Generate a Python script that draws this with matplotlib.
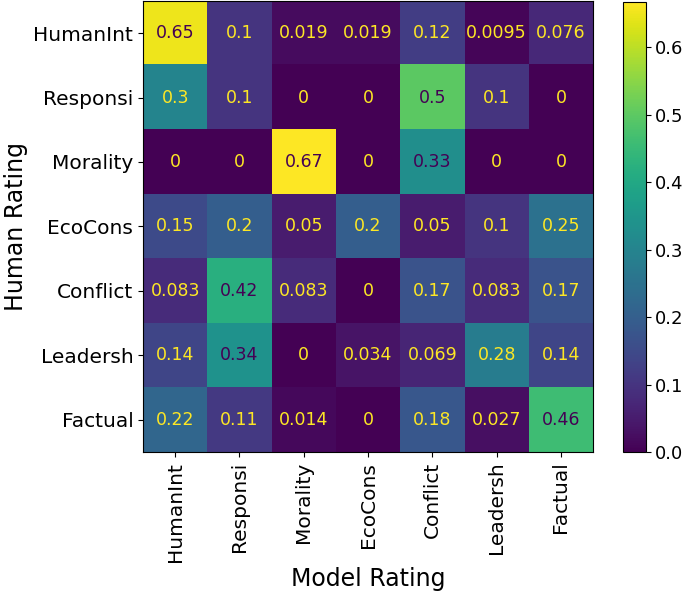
import matplotlib
matplotlib.use("Agg")
import matplotlib.pyplot as plt
import numpy as np

labels = ["HumanInt", "Responsi", "Morality", "EcoCons", "Conflict", "Leadersh", "Factual"]
cells = np.array([
    [0.65, 0.1, 0.019, 0.019, 0.12, 0.0095, 0.076],
    [0.3, 0.1, 0, 0, 0.5, 0.1, 0],
    [0, 0, 0.67, 0, 0.33, 0, 0],
    [0.15, 0.2, 0.05, 0.2, 0.05, 0.1, 0.25],
    [0.083, 0.42, 0.083, 0, 0.17, 0.083, 0.17],
    [0.14, 0.34, 0, 0.034, 0.069, 0.28, 0.14],
    [0.22, 0.11, 0.014, 0, 0.18, 0.027, 0.46],
])

fig = plt.figure(figsize=(6.85, 5.96), dpi=100)
ax = fig.add_axes([0.2088, 0.2416, 0.657, 0.757])
cax = fig.add_axes([0.9095, 0.2416, 0.0336, 0.755])

cmap = plt.get_cmap("viridis")
im = ax.imshow(cells, cmap=cmap, vmin=0, vmax=0.667, aspect="auto")

# text colour like sklearn's ConfusionMatrixDisplay
thresh = 0.33
for i in range(cells.shape[0]):
    for j in range(cells.shape[1]):
        v = cells[i, j]
        color = cmap(0.0) if v >= thresh else cmap(1.0)
        ax.text(j, i, format(v, ".2g"), ha="center", va="center",
                color=color, fontsize=12.5)

ax.set_xticks(range(len(labels)))
ax.set_yticks(range(len(labels)))
ax.set_xticklabels(labels, rotation=90, fontsize=14.5)
ax.set_yticklabels(labels, fontsize=14.5)
ax.set_xlabel("Model Rating", fontsize=17)
ax.set_ylabel("Human Rating", fontsize=17)

cb = fig.colorbar(im, cax=cax)
cb.ax.tick_params(labelsize=13, pad=3)
cb.set_ticks([0.0, 0.1, 0.2, 0.3, 0.4, 0.5, 0.6])

fig.savefig("out.png", dpi=100)
